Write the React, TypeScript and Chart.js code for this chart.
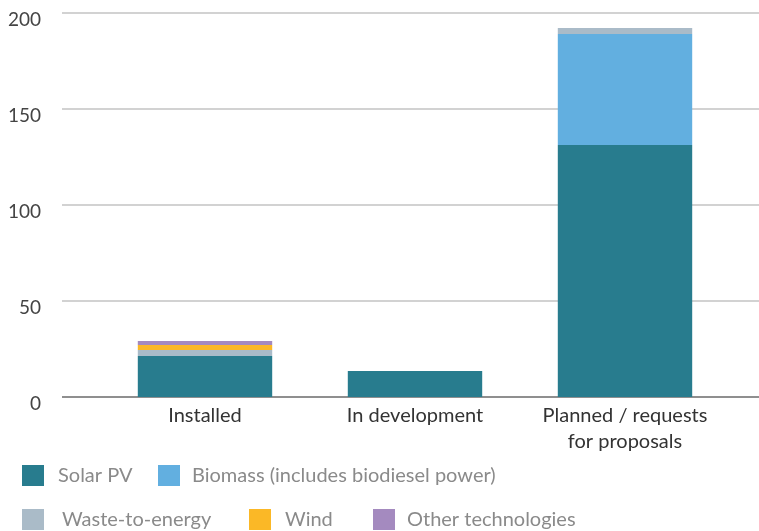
import React, { useEffect, useRef } from 'react';
import { Chart, registerables } from 'chart.js';

Chart.register(...registerables);

const categories = [['Installed'], ['In development'], ['Planned / requests', 'for proposals']];
const seriesNames = ['Solar PV', 'Biomass (includes biodiesel power)', 'Waste-to-energy', 'Wind', 'Other technologies'];
const solarPV = [21.4, 13.5, 131.2];
const biomass = [0, 0, 57.9];
const wasteToEnergy = [3.1, 0, 3.1];
const wind = [2.6, 0, 0];
const otherTech = [2.1, 0, 0];
const yTickStep = 50;
const yMax = 200;

const colors = ['#287c8e', '#62afe0', '#aabbc8', '#fbb826', '#a48abf'];
const FONT = 'Lato, "Open Sans", sans-serif';

const gridPlugin = {
  id: 'fullGrid',
  beforeDatasetsDraw(chart: any) {
    const y = chart.scales.y;
    const ctx = chart.ctx;
    ctx.save();
    y.ticks.forEach((t: any) => {
      const py = Math.round(y.getPixelForValue(t.value));
      ctx.strokeStyle = t.value === 0 ? '#8f8f8f' : '#c3c3c3';
      ctx.lineWidth = t.value === 0 ? 2 : 1.5;
      ctx.beginPath();
      ctx.moveTo(62, py);
      ctx.lineTo(chart.width, py);
      ctx.stroke();
    });
    ctx.restore();
  },
};

const legendSlots = [
  { row: 0, box: 22, text: 58 },
  { row: 0, box: 158, text: 192 },
  { row: 1, box: 22, text: 62 },
  { row: 1, box: 249, text: 285 },
  { row: 1, box: 373, text: 407 },
];
const legendRowTop = [465, 509];

const legendPlugin = {
  id: 'customLegend',
  afterDraw(chart: any) {
    const ctx = chart.ctx;
    ctx.save();
    chart.data.datasets.forEach((ds: any, i: number) => {
      const slot = legendSlots[i];
      const top = legendRowTop[slot.row];
      ctx.fillStyle = ds.backgroundColor;
      ctx.fillRect(slot.box, top, 22, 21);
      ctx.fillStyle = '#8a8a8a';
      ctx.font = `20px ${FONT}`;
      ctx.textBaseline = 'middle';
      ctx.textAlign = 'left';
      ctx.fillText(ds.label, slot.text, top + 11);
    });
    ctx.restore();
  },
};

export default function App() {
  const ref = useRef<HTMLCanvasElement>(null);
  useEffect(() => {
    if (!ref.current) return;
    const series = [solarPV, biomass, wasteToEnergy, wind, otherTech];
    const chart = new Chart(ref.current, {
      type: 'bar',
      data: {
        labels: categories as any,
        datasets: series.map((d, i) => ({
          label: seriesNames[i],
          data: d,
          backgroundColor: colors[i],
          borderWidth: 0,
          barPercentage: 0.64,
          categoryPercentage: 1,
        })),
      },
      options: {
        animation: false,
        responsive: false,
        layout: { padding: { top: 13, right: 29, bottom: 0, left: 0 } },
        plugins: { legend: { display: false }, tooltip: { enabled: false } },
        scales: {
          x: {
            stacked: true,
            grid: { display: false },
            border: { display: false },
            ticks: {
              color: '#333',
              font: { family: FONT, size: 20, lineHeight: '26px' },
              padding: -2,
              maxRotation: 0,
              autoSkip: false,
            },
            afterFit: (s: any) => { s.height = 134; s.paddingLeft = 0; s.paddingRight = 0; },
          },
          y: {
            stacked: true,
            min: 0,
            max: yMax,
            grid: { display: false, drawTicks: false },
            border: { display: false },
            ticks: {
              stepSize: yTickStep,
              color: '#444',
              font: { family: FONT, size: 19, lineHeight: '14px' },
              padding: 59,
              callback: (v: any) => ['', String(v)],
            },
            afterFit: (s: any) => { s.width = 100; s.paddingTop = 0; s.paddingBottom = 0; },
          },
        },
      },
      plugins: [gridPlugin, legendPlugin],
    });
    return () => chart.destroy();
  }, []);
  return (
    <div style={{ position: 'absolute', left: 0, top: 0, width: 759, height: 531, background: '#fff' }}>
      <canvas ref={ref} width={759} height={531} />
    </div>
  );
}
